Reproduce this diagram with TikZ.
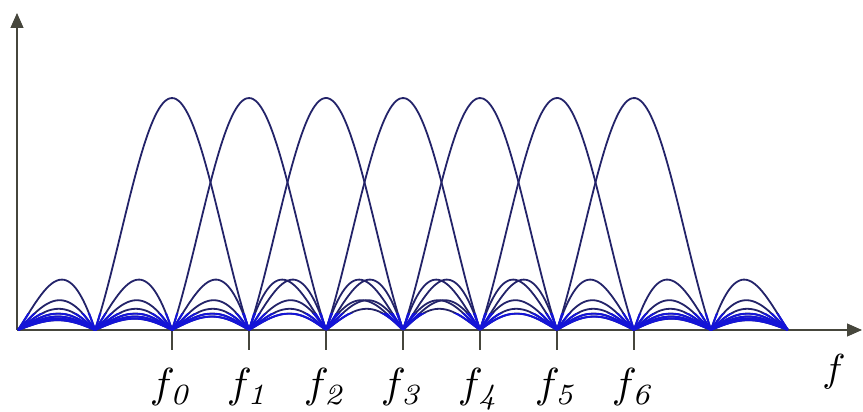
\documentclass[tikz,border=0pt]{standalone}
\usetikzlibrary{arrows.meta}
\definecolor{carrier}{RGB}{35,35,105}
\definecolor{lowband}{RGB}{20,20,215}
\definecolor{axisgray}{RGB}{70,70,60}
\newcommand{\flab}[1]{$f_{\mathit{#1}}$}
\begin{document}
\begin{tikzpicture}[x=1pt,y=1pt,
  axis/.style={draw=axisgray,line width=1.1pt,-{Triangle[length=15pt,width=13pt]}},
  tickline/.style={draw=axisgray,line width=1.1pt},
  curve/.style={draw=carrier,line width=1.8pt,line join=round},
  lowcurve/.style={draw=lowband,line width=2pt,line join=round},
  flabel/.style={anchor=base,inner sep=0pt,font=\fontsize{10}{12}\selectfont,scale=4.2},
  axlabel/.style={anchor=base,inner sep=0pt,font=\fontsize{10}{12}\selectfont,scale=3.9}]
\useasboundingbox (0,0) rectangle (863,412);
\coordinate (O) at (17,82);
\coordinate (Ytop) at (17,399);
\coordinate (Xend) at (862,82);
\foreach \k in {0,...,6}{
  \pgfmathsetmacro\cx{172+77*\k}
  \coordinate (t\k) at (\cx,82);
  \coordinate (b\k) at (\cx,62);
  \draw[tickline] (t\k) -- (b\k);
}
\draw[axis] (O) -- (Ytop);
\draw[axis] (O) -- (Xend);
\foreach \k in {0,...,6}{
  \pgfmathsetmacro\cx{172+77*\k}
  \pgfmathsetmacro\ua{-(2+\k)}
  \pgfmathsetmacro\ub{8-\k}
  \draw[curve] plot[domain=\ua:\ub, samples=400, variable=\u]
    ({\cx+77*\u},{82+232*abs(sin(180*\u)/(3.14159*\u))});
}
\begin{scope}
  \clip (10,70) rectangle (800,98);
  \foreach \k in {0,...,6}{
    \pgfmathsetmacro\cx{172+77*\k}
    \pgfmathsetmacro\ua{-(2+\k)}
    \pgfmathsetmacro\ub{8-\k}
    \draw[lowcurve] plot[domain=\ua:\ub, samples=400, variable=\u]
      ({\cx+77*\u},{82+232*abs(sin(180*\u)/(3.14159*\u))});
  }
\end{scope}
\foreach \k in {0,...,6}{
  \pgfmathsetmacro\cx{172+77*\k}
  \node[flabel] (l\k) at (\cx,14) {\flab{\k}};
}
\node[axlabel] (fx) at (834,30) {$f$};
\end{tikzpicture}
\end{document}
